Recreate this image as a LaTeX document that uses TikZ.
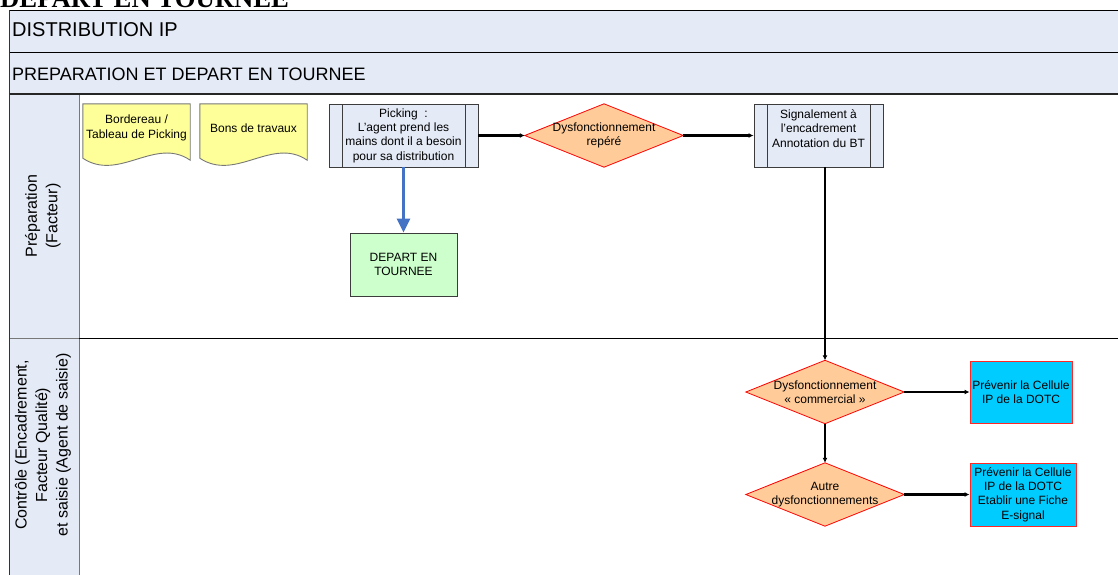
\documentclass[tikz,border=0pt]{standalone}
\usepackage{fontspec}
\setmainfont{Liberation Sans}
\newfontfamily\titleserif{Liberation Serif}
\usetikzlibrary{arrows.meta,calc}
\pgfdeclarelayer{back}
\pgfdeclarelayer{shapes}
\pgfsetlayers{back,shapes,main}

\definecolor{hdrblue}{RGB}{228,234,246}
\definecolor{docyellow}{RGB}{255,255,153}
\definecolor{startgreen}{RGB}{204,255,204}
\definecolor{decorange}{RGB}{255,204,153}
\definecolor{alertcyan}{RGB}{0,204,255}
\definecolor{flowblue}{RGB}{68,114,196}
\definecolor{edgegray}{RGB}{120,120,120}
\definecolor{boxedge}{RGB}{60,60,60}

\begin{document}
\begin{tikzpicture}[x=1pt,y=-1pt,
  txt/.style={font=\fontsize{12}{14.3}\selectfont, align=center, inner sep=0pt},
  procbox/.style={txt, draw=boxedge, fill=hdrblue, line width=0.9pt,
    minimum width=149pt, minimum height=63pt,
    path picture={
      \draw[boxedge, line width=0.9pt]
        ([xshift=13pt]path picture bounding box.north west) --
        ([xshift=13pt]path picture bounding box.south west);
      \draw[boxedge, line width=0.9pt]
        ([xshift=-13pt]path picture bounding box.north east) --
        ([xshift=-13pt]path picture bounding box.south east);
    }},
  docbox/.style={txt, minimum width=107pt, minimum height=48pt},
  docshape/.style={draw=edgegray, fill=docyellow, line width=0.9pt},
  startbox/.style={txt, draw=boxedge, fill=startgreen, line width=0.9pt,
    minimum width=107pt, minimum height=63pt},
  decision/.style={txt, minimum width=158pt, minimum height=63pt},
  decshape/.style={draw=red, fill=decorange, line width=0.8pt},
  alertbox/.style={txt, draw=red!85!white, fill=alertcyan, line width=0.9pt,
    minimum height=62pt},
  lanetxt/.style={font=\fontsize{16}{20.5}\selectfont, align=center, inner sep=0pt},
  flow/.style={line width=2.5pt, -{Latex[length=5pt,width=5pt]}},
  blueflow/.style={draw=flowblue, line width=2.5pt, -{Triangle[length=14pt,width=13pt]}},
]
\useasboundingbox (0,0) rectangle (1118,574);

% ---- pool, phase and lanes ----
\begin{pgfonlayer}{back}
  \clip (0,0) rectangle (1118,574);
  \fill[white] (0,0) rectangle (1118,574);
  \fill[hdrblue] (9,10) rectangle (1120,94);
  \fill[hdrblue] (9,94) rectangle (79,580);
  \draw[edgegray, line width=1pt] (79,94) -- (79,580);
  \draw[edgegray, line width=1pt] (9,338) -- (79,338);
  \draw[black, line width=1pt] (79,338) -- (1120,338);
  \draw[black, line width=1pt] (9,10) -- (1120,10);
  \draw[black, line width=1pt] (9,52) -- (1120,52);
  \draw[black!85, line width=2pt] (9,94) -- (1120,94);
  \draw[black!80, line width=1pt] (9,10) -- (9,580);
\end{pgfonlayer}

% ---- heading above the pool ----
\node[anchor=base west, inner sep=0pt,
      font=\titleserif\bfseries\fontsize{26.7}{30}\selectfont] (title) at (0,7) {DEPART EN TOURNEE};

\node[anchor=west, inner sep=0pt, font=\fontsize{20}{24}\selectfont] (pool) at (12,30) {DISTRIBUTION IP};
\node[anchor=west, inner sep=0pt, font=\fontsize{18}{22}\selectfont] (phase) at (12,74) {PREPARATION ET DEPART EN TOURNEE};

\node[lanetxt, rotate=90] (lane1) at (43,216) {Préparation\\(Facteur)};
\node[lanetxt, rotate=90] (lane2) at (43,445) {Contrôle (Encadrement,\\Facteur Qualité)\\et saisie (Agent de saisie)};

% ---- documents ----
\node[docbox] (doc1) at (136.5,128) {Bordereau /\\Tableau de Picking};
\node[docbox] (doc2) at (253.5,128) {Bons de travaux};

% ---- process steps ----
\node[procbox] (pick) at (403.5,135.5) {Picking~~:\\L'agent prend les\\mains dont il a besoin\\pour sa distribution};
\node[procbox, minimum width=129pt] (signal) at (818.5,135.5) {Signalement à\\l'encadrement\\Annotation du BT\\\mbox{}};
\node[startbox] (depart) at (403.5,264.5) {DEPART EN\\TOURNEE};

% ---- decisions ----
\node[decision] (d1) at (604,135.5) {Dysfonctionnement\\repéré};
\node[decision] (d2) at (825,392) {Dysfonctionnement\\« commercial »};
\node[decision] (d3) at (825,494.5) {Autre\\dysfonctionnements};

% ---- alerts ----
\node[alertbox, minimum width=102pt] (alert1) at (1021,392) {Prévenir la Cellule\\IP de la DOTC};
\node[alertbox, minimum width=106pt, minimum height=63pt] (alert2) at (1023,494.5) {Prévenir la Cellule\\IP de la DOTC\\Etablir une Fiche\\E-signal};

% ---- shape outlines behind the texts ----
\begin{pgfonlayer}{shapes}
  \foreach \d in {doc1,doc2}{
    \filldraw[docshape] (\d.north west) -- (\d.north east) -- ($(\d.south east)+(0,8)$)
      .. controls ($(\d.south east)+(-35,-16)$) and ($(\d.south west)+(36,30)$) ..
      ($(\d.south west)+(0,6)$) -- cycle;
  }
  \foreach \d in {d1,d2,d3}{
    \filldraw[decshape] (\d.west) -- (\d.north) -- (\d.east) -- (\d.south) -- cycle;
  }
\end{pgfonlayer}

% ---- connectors ----
\draw[flow] (pick.east) -- (d1.west);
\draw[flow] (d1.east) -- (signal.west);
\draw[flow] (d2.north |- signal.south) -- (d2.north);
\draw[flow] (d2.east) -- (alert1.west);
\draw[flow] (d2.south) -- (d3.north);
\draw[flow] (d3.east) -- (alert2.west);
\draw[blueflow] (pick.south) -- (depart.north);
\end{tikzpicture}
\end{document}
